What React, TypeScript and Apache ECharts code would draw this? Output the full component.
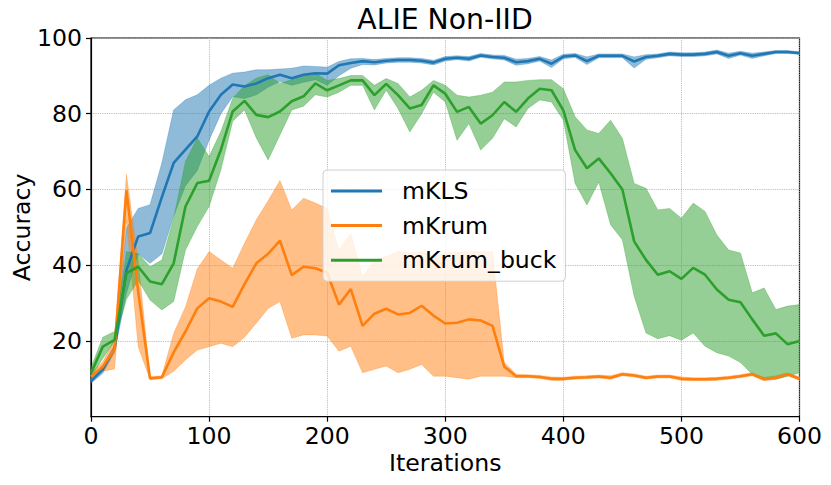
import React, { useEffect, useRef } from "react";
import * as echarts from "echarts";

const iterations = [
  0, 10, 20, 30, 40, 50, 60, 70, 80, 90,
  100, 110, 120, 130, 140, 150, 160, 170, 180, 190,
  200, 210, 220, 230, 240, 250, 260, 270, 280, 290,
  300, 310, 320, 330, 340, 350, 360, 370, 380, 390,
  400, 410, 420, 430, 440, 450, 460, 470, 480, 490,
  500, 510, 520, 530, 540, 550, 560, 570, 580, 590,
  600,
];

const mklsMean = [
  9.4, 12.5, 18, 38.7, 47.6, 48.5, 58, 67, 70.5, 74,
  80.6, 85, 87.7, 87.2, 88, 89.4, 90.3, 89.4, 90.3, 90.7,
  90.6, 92.8, 93.4, 93.9, 93.6, 94, 94.2, 94.2, 94, 93.5,
  94.5, 94.8, 94.5, 95.4, 95, 94.8, 93.6, 93.9, 94.5, 93.2,
  95.1, 95.4, 93.9, 95.3, 95.3, 95.3, 93.8, 95, 95.3, 95.8,
  95.6, 95.6, 95.8, 96.3, 95.3, 96, 95.3, 95.8, 96.3, 96.3,
  96,
];
const mklsUpper = [
  10.6, 13.5, 19, 49.8, 55, 56, 67, 81, 83.7, 85,
  87.5, 89.4, 90.7, 91, 91.6, 91.6, 91.8, 92, 92.6, 92.5,
  92.3, 93.8, 94.5, 94.6, 94.3, 94.6, 94.8, 94.8, 94.6, 94.1,
  95.1, 95.3, 95.1, 95.9, 95.5, 95.4, 94.4, 94.6, 95.1, 94.2,
  95.7, 95.9, 95, 95.8, 95.8, 95.8, 95, 95.6, 95.8, 96.3,
  96.1, 96.1, 96.3, 96.8, 96, 96.5, 96, 96.3, 96.7, 96.7,
  96.3,
];
const mklsLower = [
  8.8, 11.5, 17, 32.6, 43, 40.5, 43, 53, 61, 65,
  73, 80, 84.5, 84, 85, 87, 88.5, 87.5, 88.3, 89,
  87.5, 90, 92, 93, 92.9, 93.4, 93.6, 93.6, 93.4, 92.9,
  93.9, 94.3, 93.9, 94.9, 94.5, 94.2, 92.8, 93.2, 93.9, 92.2,
  94.5, 94.9, 93, 94.8, 94.8, 94.8, 92.1, 94.4, 94.8, 95.3,
  95.1, 95.1, 95.3, 95.8, 94.6, 95.5, 94.6, 95.3, 95.9, 95.9,
  95.7,
];

const mkrumMean = [
  10.6, 13.2, 17.8, 59.8, 33, 10.1, 10.4, 17, 22.5, 28.6,
  31.3, 30.4, 29, 35, 40.5, 43, 46.5, 37.4, 39.6, 39.2,
  38, 29.6, 33.7, 24, 27.2, 28.5, 27, 27.4, 29.3, 26.7,
  24.6, 24.8, 25.7, 25.4, 24, 13.2, 10.7, 10.7, 10.5, 10,
  10, 10.3, 10.4, 10.6, 10.3, 11.2, 10.9, 10.3, 10.6, 10.6,
  10, 9.9, 9.9, 10, 10.3, 10.7, 11.2, 9.9, 10.3, 11.2,
  10,
];
const mkrumUpper = [
  11.5, 14.5, 20.5, 64, 41, 10.6, 10.8, 22, 29, 39,
  43.6, 41.4, 39.2, 45.8, 52, 57, 62.4, 54.6, 57.7, 56.4,
  55, 44, 48.5, 37, 41.4, 42.3, 43.6, 43.2, 43.6, 42.3,
  43.2, 43.4, 43.6, 43.6, 43.6, 14.3, 11.2, 11.1, 10.9, 10.5,
  10.4, 10.7, 10.8, 11.0, 10.8, 11.6, 11.3, 10.7, 11.0, 11.0,
  10.5, 10.3, 10.3, 10.4, 10.7, 11.1, 11.6, 10.4, 10.8, 11.6,
  10.5,
];
const mkrumLower = [
  9.6, 12, 12.6, 52, 18.5, 9.8, 10, 12, 15, 17.6,
  18.5, 19.4, 18.5, 21, 24.7, 28.6, 30.4, 20.7, 21.6, 21.6,
  21.3, 17.3, 18.6, 11.6, 12.5, 13.4, 11.6, 12.5, 13.8, 10.7,
  10.7, 10.3, 9.9, 10.7, 10.7, 10.7, 10.3, 10.3, 10.1, 9.6,
  9.6, 9.9, 10.0, 10.2, 9.9, 10.8, 10.5, 9.9, 10.2, 10.2,
  9.6, 9.5, 9.5, 9.6, 9.9, 10.3, 10.8, 9.5, 9.9, 10.8,
  9.6,
];

const mkbMean = [
  11.5, 18.5, 20.3, 37.9, 39.6, 35.7, 35, 40.5, 55.5, 61.7,
  62.3, 70.5, 80.6, 83.4, 79.7, 79.1, 80.6, 83.3, 84.6, 88,
  86.2, 87.5, 88.8, 88.8, 84.9, 87.9, 84.9, 81.4, 82.3, 87.5,
  85.3, 80.5, 81.8, 77.4, 79.6, 83.1, 80.5, 84, 86.6, 86.2,
  80.9, 70.4, 65.6, 68.2, 64.3, 60, 46.3, 41.4, 37.5, 38.4,
  36.4, 39.3, 37.5, 33.6, 30.9, 30.2, 25.7, 21.4, 22, 19.1,
  20,
];
const mkbUpper = [
  13, 21, 22.5, 43.6, 43, 39.6, 41.4, 52.4, 67.4, 73.6,
  68.7, 75.3, 84.1, 87.4, 89.4, 90.3, 88, 89, 90.3, 90.7,
  88.8, 89.3, 90.1, 90.1, 87.5, 89.3, 88, 84.4, 86.2, 88.8,
  87.5, 84.9, 84.4, 84.9, 85.7, 88.4, 88.4, 88.8, 89, 89,
  86.6, 79.2, 75.7, 74.8, 78.3, 73.5, 61.6, 60.3, 54.6, 55,
  52.4, 56.4, 54.2, 48, 44, 43.2, 32.7, 34, 28.3, 29.2,
  29.6,
];
const mkbLower = [
  10.5, 15.4, 20, 31, 36, 30.8, 28.2, 30.4, 44, 50.2,
  55.5, 65.2, 78, 81, 73.6, 67.8, 74.4, 81, 82, 85,
  84.4, 85.7, 87.5, 87.5, 81, 86.2, 81.4, 75.2, 80, 85.7,
  83.1, 73, 77.4, 70.4, 73.5, 78.7, 76.5, 81.4, 83.6, 83.1,
  78.3, 61.6, 55.9, 62, 50.7, 46.7, 31.8, 22.1, 20.6, 21.4,
  20.2, 22.1, 18.6, 16.9, 16, 14.3, 11.2, 10, 9.9, 10.7,
  11.6,
];

const seriesNames = ["mKLS", "mKrum", "mKrum_buck"];
const seriesColors = ["#1f77b4", "#ff7f0e", "#2ca02c"];
const bandColors = ["rgba(31,119,180,0.5)", "rgba(255,127,14,0.5)", "rgba(44,160,44,0.5)"];
const xTicks = { min: 0, max: 600, interval: 100 };
const yTicks = { min: 0, max: 100, interval: 20 };

const FONT = "DejaVu Sans";
const FS = 23.6;

export default function App() {
  const ref = useRef<HTMLDivElement>(null);

  useEffect(() => {
    document.body.style.margin = "0";
    if (!ref.current) return;
    const chart = echarts.init(ref.current, undefined, { renderer: "svg" });

    const groups = [
      { mean: mklsMean, upper: mklsUpper, lower: mklsLower },
      { mean: mkrumMean, upper: mkrumUpper, lower: mkrumLower },
      { mean: mkbMean, upper: mkbUpper, lower: mkbLower },
    ];
    const pairs = (arr: number[]) => iterations.map((x, i) => [x, arr[i]]);

    const bandSeries = groups.map((g, k) => ({
      type: "custom",
      name: "band_" + k,
      data: [[iterations[0], g.mean[0]]],
      silent: true,
      clip: true,
      z: 1,
      renderItem: (_params: any, api: any) => {
        const pts: number[][] = [];
        for (let i = 0; i < iterations.length; i++) {
          pts.push(api.coord([iterations[i], g.upper[i]]));
        }
        for (let i = iterations.length - 1; i >= 0; i--) {
          pts.push(api.coord([iterations[i], g.lower[i]]));
        }
        return {
          type: "polygon",
          shape: { points: pts },
          style: { fill: bandColors[k], stroke: bandColors[k], lineWidth: 0.6 },
          silent: true,
        };
      },
    }));

    const lineSeries = groups.map((g, k) => ({
      type: "line",
      name: seriesNames[k],
      data: pairs(g.mean),
      symbol: "none",
      showSymbol: false,
      silent: true,
      lineStyle: { width: 2.6, color: seriesColors[k] },
      itemStyle: { color: seriesColors[k] },
      z: 3,
    }));

    chart.setOption({
      animation: false,
      textStyle: { fontFamily: FONT },
      title: {
        text: "ALIE Non-IID",
        left: 445,
        top: 5,
        padding: 0,
        textAlign: "center",
        textStyle: { fontFamily: FONT, fontSize: 28.3, fontWeight: "normal", color: "#000" },
      },
      grid: {
        left: 91,
        top: 38,
        right: 31.5,
        bottom: 68.3,
        show: true,
        borderColor: "#000",
        borderWidth: 1.2,
        containLabel: false,
        outerBoundsMode: "none",
      },
      legend: {
        data: seriesNames.map((n, k) => ({ name: n, icon: "rect", itemStyle: { color: seriesColors[k] } })),
        orient: "vertical",
        left: 323,
        top: 170,
        itemWidth: 51,
        itemHeight: 3,
        itemGap: 10.6,
        selectedMode: false,
        backgroundColor: "rgba(255,255,255,0.8)",
        borderColor: "#d0d0d0",
        borderWidth: 1,
        borderRadius: 4,
        padding: [9, 9, 9, 8],
        textStyle: {
          fontFamily: FONT,
          fontSize: FS,
          color: "#000",
          lineHeight: 24,
          padding: [0, 0, 0, 15],
        },
      },
      xAxis: {
        type: "value",
        ...xTicks,
        name: "Iterations",
        nameLocation: "middle",
        nameGap: 34.5,
        nameMoveOverlap: false,
        nameTextStyle: { fontFamily: FONT, fontSize: FS, color: "#000" },
        axisLine: { show: true, lineStyle: { color: "#000", width: 1.2 } },
        axisTick: { show: true, length: 5, lineStyle: { color: "#000", width: 1.2 } },
        axisLabel: { fontFamily: FONT, fontSize: FS, color: "#000", margin: 7 },
        splitLine: { show: true, lineStyle: { color: "#b0b0b0", type: "dotted", width: 0.9 } },
      },
      yAxis: {
        type: "value",
        ...yTicks,
        name: "Accuracy",
        nameLocation: "middle",
        nameGap: 57,
        nameMoveOverlap: false,
        nameTextStyle: { fontFamily: FONT, fontSize: FS, color: "#000" },
        axisLine: { show: true, lineStyle: { color: "#000", width: 1.2 } },
        axisTick: { show: true, length: 5, lineStyle: { color: "#000", width: 1.2 } },
        axisLabel: { fontFamily: FONT, fontSize: FS, color: "#000", margin: 9, showMinLabel: false },
        splitLine: { show: true, lineStyle: { color: "#b0b0b0", type: "dotted", width: 0.9 } },
      },
      series: [...bandSeries, ...lineSeries],
    });

    return () => chart.dispose();
  }, []);

  return <div ref={ref} style={{ width: 831, height: 485 }} />;
}
